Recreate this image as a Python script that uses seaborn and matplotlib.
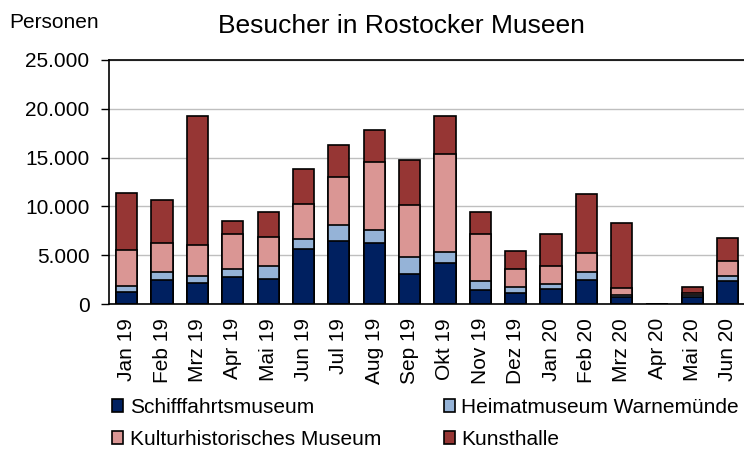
import numpy as np
import pandas as pd
import matplotlib.pyplot as plt
from matplotlib.patches import Patch
from matplotlib.ticker import FuncFormatter
import seaborn as sns

# Besucherzahlen pro Monat
monate = ["Jan 19", "Feb 19", "Mrz 19", "Apr 19", "Mai 19", "Jun 19", "Jul 19", "Aug 19", "Sep 19",
          "Okt 19", "Nov 19", "Dez 19", "Jan 20", "Feb 20", "Mrz 20", "Apr 20", "Mai 20", "Jun 20"]
schifffahrt = [1260, 2460, 2120, 2770, 2600, 5600, 6490, 6220, 3110,
               4230, 1430, 1160, 1570, 2420, 720, 0, 680, 2390]
heimatmuseum = [550, 820, 750, 790, 1330, 1090, 1570, 1330, 1740,
                1090, 920, 550, 480, 820, 240, 0, 240, 480]
kulturhistorisch = [3690, 3000, 3140, 3650, 2900, 3550, 4950, 7000, 5290,
                    10040, 4850, 1880, 1840, 1950, 720, 0, 200, 1570]
kunsthalle = [5910, 4340, 13220, 1330, 2560, 3550, 3250, 3250, 4580,
              3890, 2190, 1810, 3250, 6080, 6590, 0, 650, 2290]

namen = ["Schifffahrtsmuseum", "Heimatmuseum Warnemünde", "Kulturhistorisches Museum", "Kunsthalle"]
farben = ["#002060", "#95B3D7", "#DA9694", "#963634"]

sns.set_style("white")
plt.rcParams["font.family"] = ["Liberation Sans", "DejaVu Sans"]
plt.rcParams["text.color"] = "black"
plt.rcParams["xtick.color"] = "black"
plt.rcParams["ytick.color"] = "black"

df = pd.DataFrame({"Monat": monate})
df["s1"] = np.array(schifffahrt)
df["s2"] = df["s1"] + np.array(heimatmuseum)
df["s3"] = df["s2"] + np.array(kulturhistorisch)
df["s4"] = df["s3"] + np.array(kunsthalle)

fig = plt.figure(figsize=(7.44, 4.5), dpi=100)
ax = fig.add_axes([0.1465, 0.3244, 0.8555, 0.5423])
ax.set_axisbelow(True)
ax.yaxis.grid(True, color="#BFBFBF", linewidth=1)

# gestapelte Balken: von oben nach unten übereinander zeichnen
for spalte, farbe in zip(["s4", "s3", "s2", "s1"], farben[::-1]):
    sns.barplot(data=df, x="Monat", y=spalte, order=monate, color=farbe, saturation=1,
                edgecolor="black", linewidth=1.2, width=0.6, ax=ax)

ax.set_xlabel("")
ax.set_ylabel("")
ax.set_xlim(-0.5, len(monate) - 0.5)
ax.set_ylim(0, 25000)
ax.set_yticks(range(0, 25001, 5000))
ax.yaxis.set_major_formatter(FuncFormatter(lambda v, p: f"{int(v):,}".replace(",", ".")))
ax.set_xticks(range(len(monate)))
ax.set_xticklabels(monate, rotation=90)
ax.set_xticks(np.arange(-0.5, len(monate), 1), minor=True)
ax.tick_params(axis="x", which="major", length=0, pad=10, labelsize=15, labelcolor="black")
ax.tick_params(axis="x", which="minor", length=6, width=1, direction="out", color="black")
ax.tick_params(axis="y", length=6, width=1, direction="out", pad=8, labelsize=15,
               left=True, color="black", labelcolor="black")

for s in ["top", "left", "bottom"]:
    ax.spines[s].set_color("black")
    ax.spines[s].set_linewidth(1.2)
ax.spines["right"].set_visible(False)

fig.text(401 / 744, 1 - 33 / 450, "Besucher in Rostocker Museen", ha="center", va="baseline",
         fontsize=19, color="black")
fig.text(9 / 744, 1 - 28 / 450, "Personen", ha="left", va="baseline", fontsize=15, color="black")

handles = [Patch(facecolor=f, edgecolor="black", linewidth=1.2) for f in farben]
reihenfolge = [0, 2, 1, 3]
fig.legend([handles[i] for i in reihenfolge], [namen[i] for i in reihenfolge],
           loc="upper left", bbox_to_anchor=(112 / 744, 1 - 398 / 450), ncol=2, frameon=False,
           fontsize=15, handlelength=0.55, handleheight=0.55, handletextpad=0.3,
           columnspacing=3.0, labelspacing=0.62, borderaxespad=0, borderpad=0)

fig.savefig("out.png", dpi=100)
